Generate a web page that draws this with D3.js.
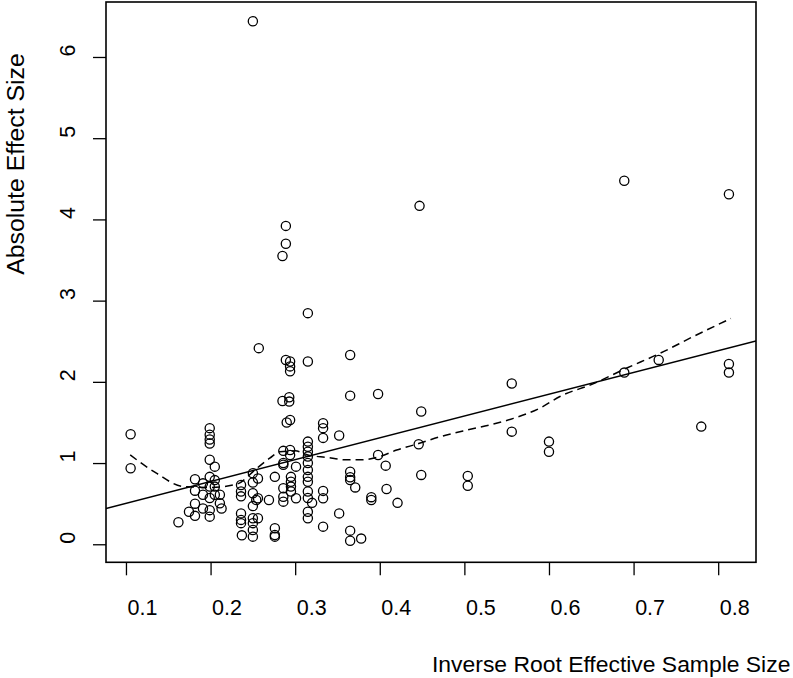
<!DOCTYPE html>
<html>
<head>
<meta charset="utf-8">
<script src="https://cdn.jsdelivr.net/npm/d3@7"></script>
<style>
  html, body { margin: 0; padding: 0; background: #fff; }
  svg { display: block; }
  text { font-family: "Liberation Sans", Arial, Helvetica, sans-serif; fill: #000; }
</style>
</head>
<body>
<svg id="chart" width="793" height="678"></svg>
<script>
// ---- data ----
const xTicks = [0.1, 0.2, 0.3, 0.4, 0.5, 0.6, 0.7, 0.8];
const yTicks = [0, 1, 2, 3, 4, 5, 6];
const xLabel = "Inverse Root Effective Sample Size";
const yLabel = "Absolute Effect Size";

const pointX = [
  0.1055, 0.1055, 0.162, 0.1745, 0.1816, 0.1816, 0.1816, 0.1816, 0.191, 0.191, 0.191,
  0.199, 0.199, 0.199, 0.199, 0.199, 0.199, 0.199, 0.199, 0.199, 0.199,
  0.205, 0.205, 0.205, 0.205, 0.211, 0.211, 0.213,
  0.236, 0.236, 0.236, 0.236, 0.236, 0.236, 0.237,
  0.250, 0.250, 0.250, 0.250, 0.250, 0.250, 0.250, 0.250, 0.256, 0.256, 0.254, 0.257, 0.256,
  0.269, 0.276, 0.276, 0.276, 0.276,
  0.285, 0.286, 0.286, 0.286, 0.286, 0.286, 0.286, 0.289, 0.289, 0.289, 0.285, 0.290,
  0.293, 0.293, 0.294, 0.294, 0.294, 0.294, 0.294, 0.294, 0.295, 0.295, 0.295, 0.295,
  0.301, 0.301,
  0.315, 0.315, 0.315, 0.315, 0.315, 0.315, 0.315, 0.315, 0.315, 0.315, 0.315, 0.315, 0.315, 0.315,
  0.320, 0.333, 0.333, 0.333, 0.333, 0.333, 0.333, 0.352, 0.352,
  0.365, 0.365, 0.365, 0.365, 0.365, 0.365, 0.365, 0.371, 0.378, 0.390, 0.390,
  0.398, 0.398, 0.407, 0.408, 0.421,
  0.446, 0.447, 0.449, 0.449, 0.504, 0.504,
  0.556, 0.556, 0.600, 0.600,
  0.689, 0.689, 0.7297, 0.780, 0.8127, 0.8127, 0.8127,
  0.250
];
const pointY = [
  1.355, 0.936, 0.271, 0.40, 0.80, 0.66, 0.50, 0.35, 0.75, 0.61, 0.44,
  1.43, 1.35, 1.29, 1.24, 1.04, 0.83, 0.71, 0.57, 0.42, 0.34,
  0.956, 0.79, 0.71, 0.61, 0.61, 0.505, 0.44,
  0.73, 0.65, 0.59, 0.38, 0.30, 0.26, 0.11,
  0.875, 0.76, 0.628, 0.47, 0.32, 0.26, 0.176, 0.094, 0.81, 0.567, 0.546, 2.415, 0.32,
  0.546, 0.83, 0.197, 0.115, 0.094,
  1.765, 1.15, 1.0, 0.98, 0.69, 0.586, 0.525, 2.27, 3.92, 3.70, 3.55, 1.50,
  1.81, 1.757, 2.25, 2.19, 2.13, 1.53, 1.16, 1.10, 0.83, 0.77, 0.71, 0.65,
  0.956, 0.567,
  2.846, 2.25, 1.264, 1.20, 1.14, 1.08, 1.0, 0.915, 0.83, 0.77, 0.65, 0.57, 0.40, 0.32,
  0.51, 1.49, 1.43, 1.31, 0.657, 0.567, 0.217, 1.34, 0.38,
  2.33, 1.83, 0.894, 0.825, 0.79, 0.168, 0.044, 0.70, 0.07, 0.58, 0.546,
  1.85, 1.10, 0.968, 0.68, 0.51,
  1.232, 4.167, 1.634, 0.854, 0.84, 0.72,
  1.98, 1.387, 1.264, 1.14,
  4.476, 2.114, 2.27, 1.449, 4.31, 2.22, 2.114,
  6.44
];

// linear fit (solid line): intercept and slope
const fitIntercept = 0.236;
const fitSlope = 2.685;

// smoother (dashed line)
const smoothX = [0.105, 0.136, 0.168, 0.20, 0.231, 0.254, 0.27, 0.282, 0.30, 0.315, 0.337, 0.36, 0.38,
  0.40, 0.42, 0.446, 0.47, 0.50, 0.53, 0.558, 0.59, 0.613, 0.652, 0.692, 0.731, 0.771, 0.815];
const smoothY = [1.10, 0.875, 0.71, 0.70, 0.74, 0.93, 1.06, 1.14, 1.15, 1.10, 1.07, 1.04, 1.04,
  1.08, 1.16, 1.24, 1.32, 1.40, 1.47, 1.55, 1.68, 1.82, 1.975, 2.17, 2.35, 2.56, 2.78];

// ---- layout ----
const svg = d3.select("#chart");
const boxL = 106, boxR = 756, boxT = 2, boxB = 562.3;

const x = d3.scaleLinear().domain([0.0764, 0.8447]).range([boxL, boxR]);
const y = d3.scaleLinear().domain([-0.222, 6.677]).range([boxB, boxT]);

svg.append("defs").append("clipPath").attr("id", "clip")
  .append("rect").attr("x", boxL).attr("y", boxT).attr("width", boxR - boxL).attr("height", boxB - boxT);

// axes
const xAxis = svg.append("g").attr("transform", `translate(0,${boxB})`)
  .call(d3.axisBottom(x).tickValues(xTicks).tickSize(13).tickFormat(d3.format(".1f")));
xAxis.select(".domain").remove();
xAxis.selectAll(".tick line").attr("stroke", "#000").attr("stroke-width", 1.3);
xAxis.selectAll(".tick text").attr("x", 16).attr("y", 53).attr("dy", null)
  .attr("fill", "#000").style("font-size", "21.5px");
xAxis.attr("font-family", null).attr("font-size", null);

const yAxis = svg.append("g").attr("transform", `translate(${boxL},0)`)
  .call(d3.axisLeft(y).tickValues(yTicks).tickSize(13).tickFormat(d3.format("d")));
yAxis.select(".domain").remove();
yAxis.selectAll(".tick line").attr("stroke", "#000").attr("stroke-width", 1.3);
yAxis.selectAll(".tick text")
  .attr("x", null).attr("dy", null).attr("y", 0)
  .attr("text-anchor", "middle")
  .attr("transform", "translate(-31,-7) rotate(-90)")
  .attr("fill", "#000").style("font-size", "21.5px");
yAxis.attr("font-family", null).attr("font-size", null);

// plot box
svg.append("rect").attr("x", boxL).attr("y", boxT).attr("width", boxR - boxL).attr("height", boxB - boxT)
  .attr("fill", "none").attr("stroke", "#000").attr("stroke-width", 1.6);

// axis titles
svg.append("text").attr("x", 432).attr("y", 672).attr("text-anchor", "start")
  .style("font-size", "22.9px").text(xLabel);
svg.append("text").attr("transform", "translate(23.5,164) rotate(-90)").attr("text-anchor", "middle")
  .style("font-size", "24.8px").text(yLabel);

const plot = svg.append("g").attr("clip-path", "url(#clip)");

// fit line
const xd = x.domain();
plot.append("line")
  .attr("x1", x(xd[0])).attr("y1", y(fitIntercept + fitSlope * xd[0]))
  .attr("x2", x(xd[1])).attr("y2", y(fitIntercept + fitSlope * xd[1]))
  .attr("stroke", "#000").attr("stroke-width", 1.5);

// smoother
const smooth = smoothX.map((v, i) => [v, smoothY[i]]);
plot.append("path").datum(smooth)
  .attr("d", d3.line().x(d => x(d[0])).y(d => y(d[1])).curve(d3.curveMonotoneX))
  .attr("fill", "none").attr("stroke", "#000").attr("stroke-width", 1.5)
  .attr("stroke-dasharray", "8,5");

// points
const pts = pointX.map((v, i) => [v, pointY[i]]);
plot.selectAll("circle.pt").data(pts).enter().append("circle")
  .attr("class", "pt")
  .attr("cx", d => x(d[0])).attr("cy", d => y(d[1])).attr("r", 4.6)
  .attr("fill", "none").attr("stroke", "#000").attr("stroke-width", 1.3);
</script>
</body>
</html>
